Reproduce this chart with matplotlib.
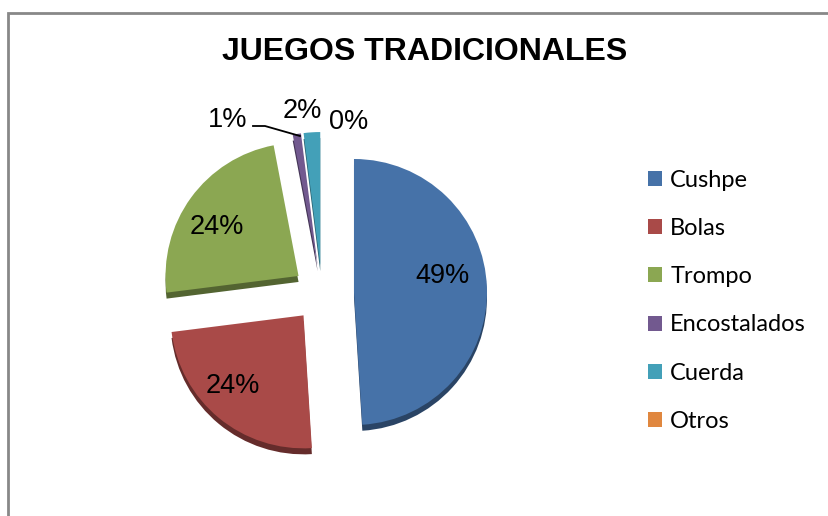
import matplotlib
matplotlib.use("Agg")
import matplotlib.pyplot as plt
from matplotlib.patches import Rectangle
import matplotlib.colors as mcolors

categories = ["Cushpe", "Bolas", "Trompo", "Encostalados", "Cuerda", "Otros"]
values = [49, 24, 24, 1, 2, 0]
title = "JUEGOS TRADICIONALES"

colors = ["#4672A8", "#A94A48", "#8BA752", "#72598F", "#43A0B8", "#E0873F"]

W, H = 829, 516
fig = plt.figure(figsize=(W / 100, H / 100), dpi=100)
ax = fig.add_axes([0, 0, 1, 1])
ax.set_xlim(0, W)
ax.set_ylim(0, H)
ax.axis("off")

def Y(py):
    return H - py

cx, cy = 322, 293
R = 133
expl = [32, 29, 29, 28, 28, 28]
depth = 6

def darker(c, f=0.6):
    r, g, b = mcolors.to_rgb(c)
    return (r * f, g * f, b * f)

# 3D side (shadow copy)
ax.pie(values, center=(cx, Y(cy) - depth), radius=R, startangle=90,
       counterclock=False, explode=expl,
       colors=[darker(c) for c in colors], wedgeprops=dict(linewidth=0))
wedges, _ = ax.pie(values, center=(cx, Y(cy)), radius=R, startangle=90,
                   counterclock=False, explode=expl, colors=colors,
                   wedgeprops=dict(linewidth=0))
ax.set_xlim(0, W)
ax.set_ylim(0, H)
ax.set_aspect("auto")

lab = [f"{v:.0f}%" for v in values]
lf = dict(family="Liberation Sans", fontsize=19.5, color="black",
          ha="center", va="center")
label_pos = [(443, 276), (233, 386), (217, 227), (228, 120), (302, 111), (349, 122)]
for t, (px, py) in zip(lab, label_pos):
    ax.text(px, Y(py), t, **lf)
ax.plot([253, 265, 300], [Y(126), Y(126), Y(136)], color="black", lw=1.3)

fig.text(425 / W, 1 - 52 / H, title, family="Liberation Sans",
         fontweight="bold", fontsize=23, ha="center", va="center")

leg = fig.legend(wedges, categories, loc="upper left",
                 bbox_to_anchor=(648 / W, 1 - 170 / H),
                 frameon=False, prop=dict(family="Lato", size=17),
                 handlelength=0.6, handleheight=0.6, handletextpad=0.34,
                 labelspacing=1.15, borderpad=0, borderaxespad=0)

fig.patches.append(Rectangle((8 / W, -0.1), 1.2, 1 - 13 / H + 0.1,
                             transform=fig.transFigure, fill=False,
                             edgecolor="#888888", lw=2))

fig.savefig("out.png", dpi=100)
